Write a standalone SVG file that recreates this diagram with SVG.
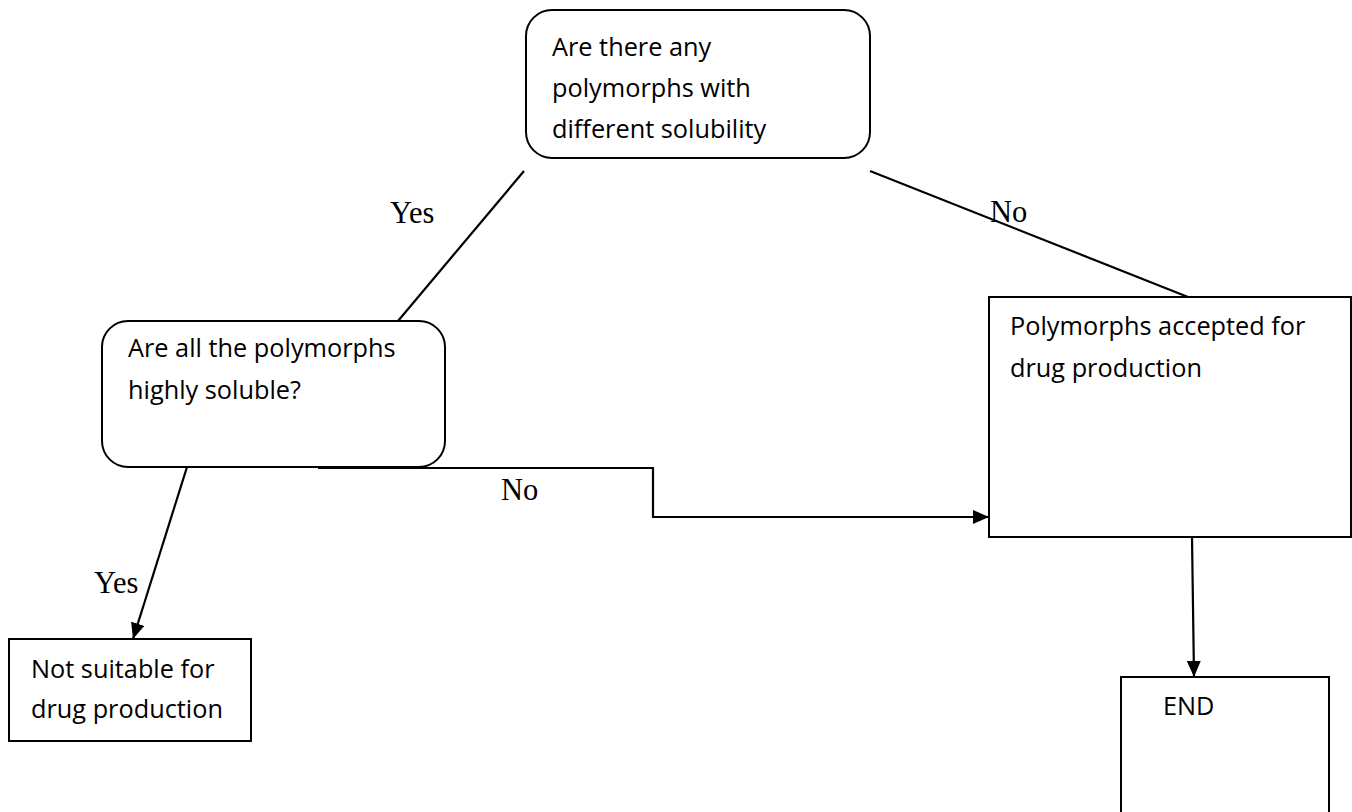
<svg xmlns="http://www.w3.org/2000/svg" width="1352" height="812" viewBox="0 0 1352 812">
  <style>
    .box { fill: #ffffff; stroke: #000000; stroke-width: 2; }
    .txt { font-family: "Open Sans", "Liberation Sans", sans-serif; font-size: 25.3px; fill: #000000; }
    .lbl { font-family: "Liberation Serif", "Times New Roman", serif; font-size: 30.5px; fill: #000000; }
    .wire { fill: none; stroke: #000000; stroke-width: 2.2; }
    .arrow { fill: none; stroke: #000000; stroke-width: 2.2; marker-end: url(#head); }
  </style>
  <defs>
    <marker id="head" viewBox="0 0 16 14" refX="16" refY="7" markerWidth="16" markerHeight="14" markerUnits="userSpaceOnUse" orient="auto">
      <path d="M0,0 L16,7 L0,14 Z" fill="#000000"/>
    </marker>
  </defs>
  <rect width="1352" height="812" fill="#ffffff"/>

  <g id="q-polymorphs">
    <rect class="box" x="526" y="10" width="344" height="148" rx="26" ry="26"/>
    <text class="txt" x="552" y="56">Are there any</text>
    <text class="txt" x="552" y="97">polymorphs with</text>
    <text class="txt" x="552" y="138">different solubility</text>
  </g>

  <g id="q-soluble">
    <rect class="box" x="102" y="321" width="343" height="146" rx="26" ry="26"/>
    <text class="txt" x="128" y="357">Are all the polymorphs</text>
    <text class="txt" x="128" y="399">highly soluble?</text>
  </g>

  <g id="accepted">
    <rect class="box" x="989" y="297" width="362" height="240"/>
    <text class="txt" x="1010" y="335">Polymorphs accepted for</text>
    <text class="txt" x="1010" y="377">drug production</text>
  </g>

  <g id="not-suitable">
    <rect class="box" x="9" y="639" width="242" height="102"/>
    <text class="txt" x="31" y="678">Not suitable for</text>
    <text class="txt" x="31" y="718">drug production</text>
  </g>

  <g id="end">
    <rect class="box" x="1121" y="677" width="208" height="136"/>
    <text class="txt" x="1163" y="715">END</text>
  </g>

  <g id="connectors">
    <line class="wire" x1="524" y1="171" x2="398" y2="321"/>
    <line class="wire" x1="870" y1="171" x2="1188" y2="297"/>
    <polyline class="arrow" points="318,468 653,468 653,517 989,517"/>
    <line class="arrow" x1="187" y1="467" x2="133" y2="639"/>
    <line class="arrow" x1="1192" y1="537" x2="1194" y2="677"/>
    <text class="lbl" x="390" y="223">Yes</text>
    <text class="lbl" x="990" y="222">No</text>
    <text class="lbl" x="501" y="500">No</text>
    <text class="lbl" x="94" y="593">Yes</text>
  </g>
</svg>
